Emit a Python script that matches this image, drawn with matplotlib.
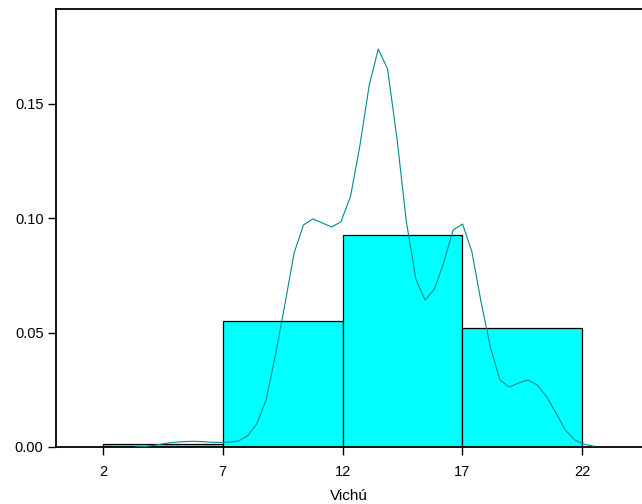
import numpy as np
import matplotlib
matplotlib.use('Agg')
import matplotlib.pyplot as plt

plt.rcParams['font.family'] = ['Liberation Sans', 'DejaVu Sans']

# histogram bins and densities
bin_edges = [2, 7, 12, 17, 22]
bin_heights = [0.0013, 0.0551, 0.0927, 0.0520]

# density curve
kde_x = [3.34, 3.74, 4.13, 4.52, 4.91, 5.30, 5.69, 6.08, 6.47, 6.86,
         7.25, 7.64, 8.03, 8.42, 8.81, 9.20, 9.59, 9.98, 10.37, 10.76,
         11.15, 11.54, 11.93, 12.33, 12.71, 13.11, 13.49, 13.88, 14.28, 14.66,
         15.06, 15.44, 15.84, 16.23, 16.62, 17.01, 17.40, 17.79, 18.18, 18.57,
         18.96, 19.35, 19.74, 20.13, 20.52, 20.91, 21.30, 21.69, 22.08, 22.47]
kde_y = [0.0000, 0.0002, 0.0007, 0.0014, 0.0020, 0.0023, 0.0025, 0.0024, 0.0021, 0.0020,
         0.0021, 0.0026, 0.0048, 0.0101, 0.0206, 0.0402, 0.0621, 0.0849, 0.0971, 0.0997,
         0.0980, 0.0962, 0.0984, 0.1094, 0.1308, 0.1579, 0.1740, 0.1653, 0.1343, 0.0988,
         0.0735, 0.0643, 0.0691, 0.0809, 0.0949, 0.0975, 0.0853, 0.0630, 0.0433, 0.0293,
         0.0262, 0.0280, 0.0293, 0.0271, 0.0219, 0.0149, 0.0074, 0.0031, 0.0012, 0.0004]

x_ticks = [2, 7, 12, 17, 22]
y_ticks = [0.00, 0.05, 0.10, 0.15]

fig = plt.figure(figsize=(6.42, 5.04), dpi=100)
ax = fig.add_axes([56 / 642, 1 - 447 / 504, 1 - 56 / 642, (447 - 9) / 504])

left = bin_edges[:-1]
widths = np.diff(bin_edges)
ax.bar(left, bin_heights, width=widths, align='edge', color='#00FFFF',
       edgecolor='black', linewidth=0.9, zorder=2)
ax.plot(kde_x, kde_y, color='#008B8B', linewidth=0.8, zorder=3)

ax.set_xlim(0.04, 24.5)
ax.set_ylim(0, 0.1915)
ax.set_xticks(x_ticks)
ax.set_yticks(y_ticks)
ax.set_yticklabels(['%.2f' % v for v in y_ticks])
ax.tick_params(direction='out', length=6, width=1, labelsize=10.5, colors='black')
ax.tick_params(axis='x', pad=7)
ax.tick_params(axis='y', pad=3)
ax.set_xlabel('Vichú', fontsize=11, labelpad=7)

for s in ['left', 'top', 'bottom']:
    ax.spines[s].set_linewidth(1.3)
ax.spines['right'].set_visible(False)

fig.savefig('out.png', dpi=100)
